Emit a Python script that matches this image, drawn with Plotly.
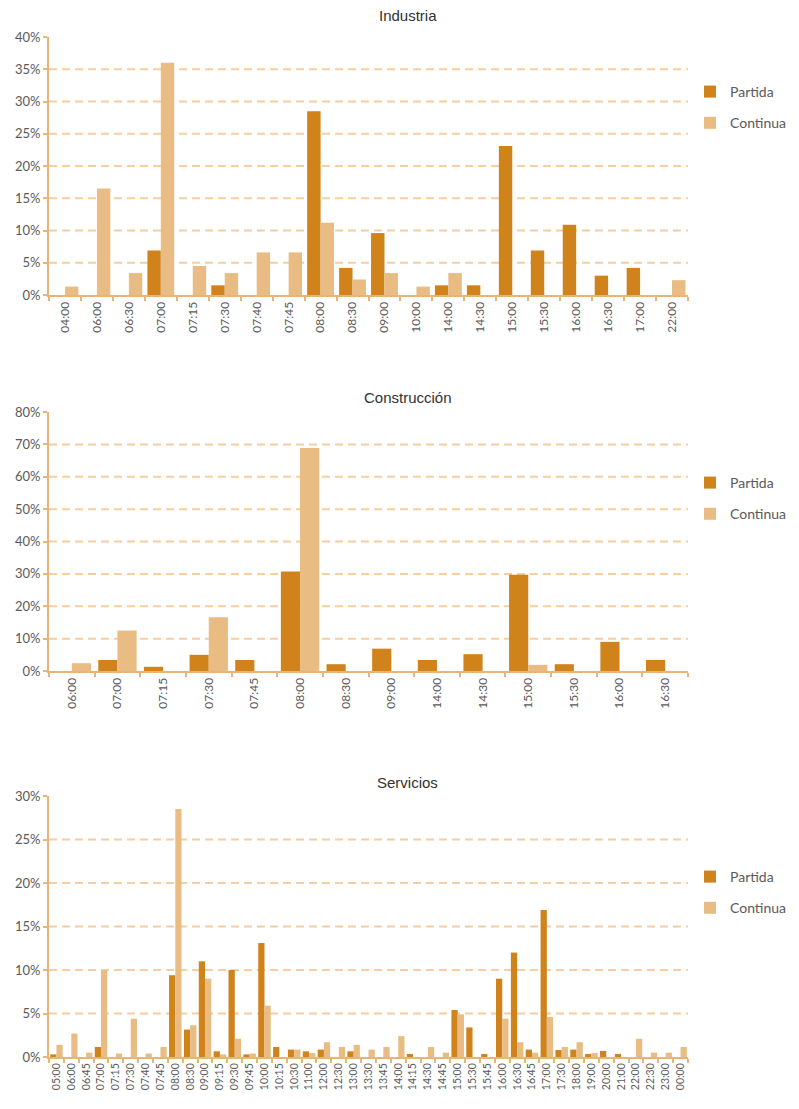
import plotly.graph_objects as go

# ---------------- data ----------------
cats_ind = ["04:00", "06:00", "06:30", "07:00", "07:15", "07:30", "07:40", "07:45", "08:00", "08:30",
            "09:00", "10:00", "14:00", "14:30", "15:00", "15:30", "16:00", "16:30", "17:00", "22:00"]
partida_ind = [0, 0, 0, 6.9, 0, 1.5, 0, 0, 28.5, 4.2, 9.6, 0, 1.5, 1.5, 23.1, 6.9, 10.9, 3.0, 4.2, 0]
continua_ind = [1.3, 16.5, 3.4, 36.0, 4.5, 3.4, 6.6, 6.6, 11.2, 2.4, 3.4, 1.3, 3.4, 0, 0, 0, 0, 0, 0, 2.3]

cats_con = ["06:00", "07:00", "07:15", "07:30", "07:45", "08:00", "08:30", "09:00", "14:00", "14:30",
            "15:00", "15:30", "16:00", "16:30"]
partida_con = [0, 3.4, 1.3, 5.0, 3.4, 30.7, 2.1, 6.9, 3.4, 5.2, 29.7, 2.1, 9.0, 3.4]
continua_con = [2.4, 12.5, 0, 16.6, 0, 68.9, 0, 0, 0, 0, 1.9, 0, 0, 0]

cats_ser = ["05:00", "06:00", "06:45", "07:00", "07:15", "07:30", "07:40", "07:45", "08:00", "08:30",
            "09:00", "09:15", "09:30", "09:45", "10:00", "10:15", "10:30", "11:00", "12:00", "12:30",
            "13:00", "13:30", "13:45", "14:00", "14:15", "14:30", "14:45", "15:00", "15:30", "15:45",
            "16:00", "16:30", "16:45", "17:00", "17:30", "18:00", "19:00", "20:00", "21:00", "22:00",
            "22:30", "23:00", "00:00"]
partida_ser = [0.3, 0, 0, 1.15, 0, 0, 0, 0, 9.4, 3.15,
               11.0, 0.65, 10.0, 0.3, 13.1, 1.15, 0.85, 0.65, 0.85, 0,
               0.65, 0, 0, 0, 0.35, 0, 0, 5.4, 3.4, 0.35,
               9.0, 12.0, 0.85, 16.9, 0.8, 0.85, 0.35, 0.7, 0.35, 0,
               0, 0, 0]
continua_ser = [1.4, 2.7, 0.5, 10.0, 0.4, 4.4, 0.4, 1.15, 28.5, 3.65,
                9.0, 0.3, 2.1, 0.4, 5.9, 0, 0.85, 0.45, 1.7, 1.15,
                1.4, 0.85, 1.15, 2.4, 0, 1.15, 0.5, 4.9, 0, 0,
                4.4, 1.7, 0.5, 4.6, 1.15, 1.7, 0.45, 0, 0, 2.1,
                0.5, 0.5, 1.15]

titles = ["Industria", "Construcción", "Servicios"]
series_names = ["Partida", "Continua"]
y_max = [40, 80, 30]
y_step = [5, 10, 5]

# ---------------- styling ----------------
OFF = 8                      # page body margin
W, H = 799 - OFF, 1109 - OFF
DARK = "rgb(207,131,26)"
LIGHT = "rgb(233,188,131)"
AXIS = "rgb(233,180,120)"
GRID = "rgb(246,206,160)"
TXT = "rgb(90,90,90)"
FONT = "Lato, 'Open Sans', sans-serif"

# pixel boxes on the page: (left, right, top, bottom)
boxes = [(49, 688, 37, 295), (49, 688, 412, 671), (49, 688, 796, 1057)]
title_y = [16, 397, 782]
legend_top = [76, 467, 861]
xfont = [12, 12, 10.5]

def px_x(p):
    return (p - OFF) / W

def px_y(p):
    return 1 - (p - OFF) / H

fig = go.Figure()
datasets = [(cats_ind, partida_ind, continua_ind),
            (cats_con, partida_con, continua_con),
            (cats_ser, partida_ser, continua_ser)]

for i, (cats, part, cont) in enumerate(datasets):
    n = i + 1
    xa = "x" if n == 1 else f"x{n}"
    ya = "y" if n == 1 else f"y{n}"
    lg = "legend" if n == 1 else f"legend{n}"
    for name, vals, col in [(series_names[0], part, DARK), (series_names[1], cont, LIGHT)]:
        fig.add_trace(go.Bar(
            x=cats, y=vals, name=name, marker=dict(color=col, line=dict(width=0)),
            xaxis=xa, yaxis=ya, legend=lg, legendgroup=f"{name}{n}", showlegend=True,
        ))

    l, r, t, b = boxes[i]
    xkey = "xaxis" if n == 1 else f"xaxis{n}"
    ykey = "yaxis" if n == 1 else f"yaxis{n}"
    fig.layout[xkey] = dict(
        domain=[px_x(l), px_x(r)], anchor=ya, type="category", automargin=False,
        showline=True, linecolor=AXIS, linewidth=2,
        ticks="outside", tickson="boundaries", ticklen=4, tickcolor=AXIS, tickwidth=1.5,
        tickangle=-90, tickfont=dict(family=FONT, size=xfont[i], color=TXT),
        showgrid=False, fixedrange=True,
    )
    fig.layout[ykey] = dict(
        domain=[px_y(b), px_y(t)], anchor=xa, range=[0, y_max[i]], automargin=False,
        tickmode="linear", tick0=0, dtick=y_step[i], ticksuffix="%",
        showline=True, linecolor=AXIS, linewidth=2,
        ticks="outside", ticklen=4, tickcolor=AXIS, tickwidth=1.5,
        tickfont=dict(family=FONT, size=13, color=TXT),
        showgrid=False, zeroline=False, fixedrange=True,
    )
    # dashed gridlines (not at the top edge)
    v = y_step[i]
    while v < y_max[i]:
        fig.add_shape(type="line", xref=f"{xa} domain", yref=ya, x0=0, x1=1, y0=v, y1=v,
                      line=dict(color=GRID, width=2, dash="8px,5px"), layer="below")
        v += y_step[i]

    fig.add_annotation(text=titles[i], xref="paper", yref="paper", x=px_x(408), y=px_y(title_y[i]),
                       xanchor="center", yanchor="middle", showarrow=False, borderpad=0,
                       font=dict(family="'Liberation Sans', Arial, sans-serif", size=15, color="rgb(50,50,50)"))

    fig.layout[lg] = dict(
        x=px_x(690), y=px_y(legend_top[i]), xanchor="left", yanchor="top",
        traceorder="grouped", tracegroupgap=10, bgcolor="rgba(0,0,0,0)",
        font=dict(family=FONT, size=14, color=TXT), itemclick=False, itemdoubleclick=False,
    )

fig.update_layout(
    width=W, height=H, margin=dict(l=0, r=0, t=0, b=0, autoexpand=False),
    paper_bgcolor="white", plot_bgcolor="white",
    barmode="group", bargap=0.16, bargroupgap=0,
    showlegend=True,
)

fig.write_html("out.html", config={"displayModeBar": False})
